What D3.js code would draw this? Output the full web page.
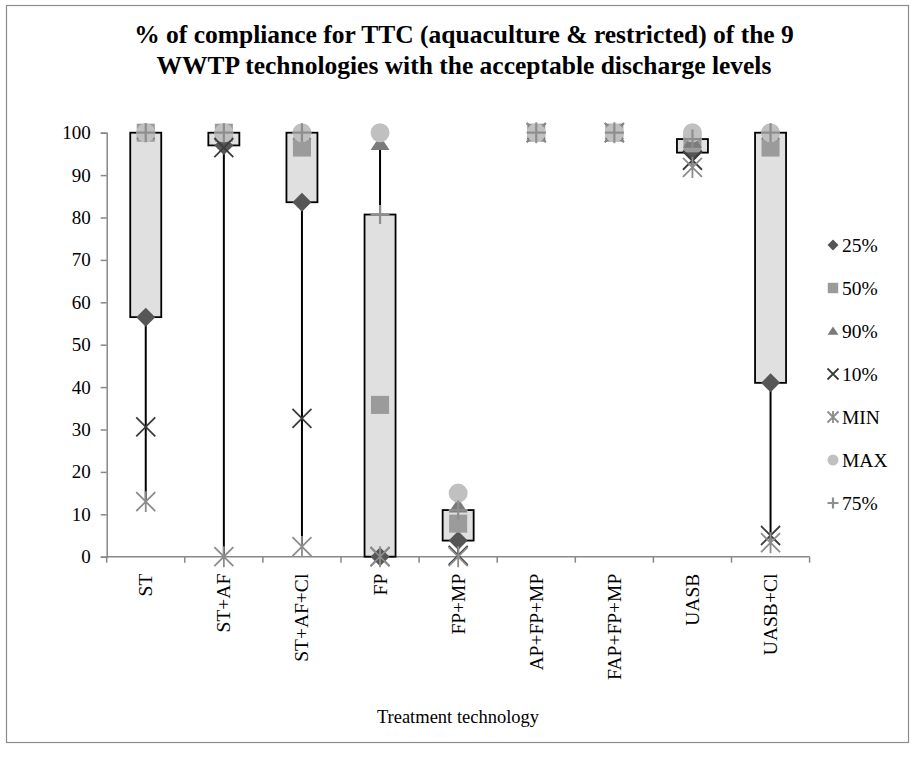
<!DOCTYPE html>
<html>
<head>
<meta charset="utf-8">
<script src="https://cdn.jsdelivr.net/npm/d3@7"></script>
<style>
  html, body { margin: 0; padding: 0; background: #fff; }
  svg { display: block; font-family: "Liberation Serif", "Times New Roman", serif; }
</style>
</head>
<body>
<svg id="chart" width="921" height="757"></svg>
<script>
// Treatment technologies on the x axis
const categories = ["ST", "ST+AF", "ST+AF+Cl", "FP", "FP+MP", "AP+FP+MP", "FAP+FP+MP", "UASB", "UASB+Cl"];

// Percentile series (% of compliance), in legend order
const p25  = [56.5, 97.0, 83.6, 0.0, 3.8, 100, 100, 95.3, 41.0];
const p50  = [100, 100, 96.5, 35.8, 7.8, 100, 100, 97.5, 96.5];
const p90  = [100, 100, 100, 97.5, 12.0, 100, 100, 98.0, 100];
const p10  = [30.6, 96.5, 32.6, 0.0, 0.3, 100, 100, 93.5, 5.0];
const pMin = [13.0, 0.0, 2.4, 0.0, 0.0, 100, 100, 91.8, 3.3];
const pMax = [100, 100, 100, 100, 15.0, 100, 100, 100, 100];
const p75  = [100, 100, 100, 80.7, 11.0, 100, 100, 98.5, 100];

const yTicks = [0, 10, 20, 30, 40, 50, 60, 70, 80, 90, 100];

const seriesNames = ["25%", "50%", "90%", "10%", "MIN", "MAX", "75%"];
const seriesData  = [p25, p50, p90, p10, pMin, pMax, p75];
const seriesShape = ["diamond", "square", "triangle", "cross", "star", "circle", "plus"];
const seriesColor = ["#565656", "#9b9b9b", "#7b7b7b", "#3c3c3c", "#8c8c8c", "#c0c0c0", "#8e8e8e"];

const svg = d3.select("#chart");

// chart frame
svg.append("rect")
  .attr("x", 6.5).attr("y", 5.5).attr("width", 902).attr("height", 737)
  .attr("fill", "#fff").attr("stroke", "#8c8c8c").attr("stroke-width", 1.2);

// title
const title = svg.append("text")
  .attr("text-anchor", "middle")
  .attr("font-weight", "bold").attr("font-size", 25.5).attr("fill", "#000");
title.append("tspan").attr("x", 464).attr("y", 43)
  .text("% of compliance for TTC (aquaculture & restricted) of the 9");
title.append("tspan").attr("x", 464).attr("y", 74)
  .text("WWTP technologies with the acceptable discharge levels");

const plot = { left: 106.7, right: 809.6, top: 132.7, bottom: 556.7 };

const x = d3.scaleBand().domain(categories).range([plot.left, plot.right]).padding(0);
const y = d3.scaleLinear().domain([0, 100]).range([plot.bottom, plot.top]);

const axisColor = "#888888";

// y axis
const yAxis = svg.append("g")
  .attr("transform", `translate(${plot.left},0)`)
  .call(d3.axisLeft(y).tickValues(yTicks).tickSize(6).tickPadding(10));
yAxis.select(".domain").attr("stroke", axisColor).attr("stroke-width", 1.5);
yAxis.selectAll(".tick line").attr("stroke", axisColor).attr("stroke-width", 1.5);
yAxis.selectAll(".tick text")
  .attr("font-family", "Liberation Serif").attr("font-size", 19).attr("fill", "#000");

// x axis: ticks sit on the category boundaries
const xAxis = svg.append("g")
  .attr("transform", `translate(0,${plot.bottom})`);
xAxis.append("line")
  .attr("x1", plot.left).attr("x2", plot.right)
  .attr("y1", 0).attr("y2", 0)
  .attr("stroke", axisColor).attr("stroke-width", 1.5);
const bounds = categories.map(c => x(c)).concat([x(categories[categories.length - 1]) + x.bandwidth()]);
xAxis.selectAll("line.tk").data(bounds).join("line")
  .attr("class", "tk")
  .attr("x1", d => d).attr("x2", d => d)
  .attr("y1", 0).attr("y2", 6)
  .attr("stroke", axisColor).attr("stroke-width", 1.5);
xAxis.selectAll("text.cat").data(categories).join("text")
  .attr("class", "cat")
  .attr("transform", d => `translate(${x(d) + x.bandwidth() / 2 + 6.5},17) rotate(-90)`)
  .attr("text-anchor", "end")
  .attr("font-size", 19.5).attr("fill", "#000")
  .text(d => d);

// x axis title
svg.append("text")
  .attr("x", 458).attr("y", 723)
  .attr("text-anchor", "middle").attr("font-size", 18.5).attr("fill", "#000")
  .text("Treatment technology");

const cx = i => x(categories[i]) + x.bandwidth() / 2;
const rows = categories.map((c, i) => ({ i, vals: seriesData.map(s => s[i]) }));

// high-low lines spanning lowest to highest value
svg.append("g").selectAll("line").data(rows).join("line")
  .attr("x1", d => cx(d.i)).attr("x2", d => cx(d.i))
  .attr("y1", d => y(d3.min(d.vals))).attr("y2", d => y(d3.max(d.vals)))
  .attr("stroke", "#000").attr("stroke-width", 2);

// up-down bars between the 25% and 75% series
const boxW = 31;
svg.append("g").selectAll("rect").data(rows).join("rect")
  .attr("x", d => cx(d.i) - boxW / 2)
  .attr("width", boxW)
  .attr("y", d => y(Math.max(p25[d.i], p75[d.i])))
  .attr("height", d => Math.abs(y(p25[d.i]) - y(p75[d.i])))
  .attr("fill", "#e0e0e0").attr("stroke", "#000").attr("stroke-width", 1.8);

// marker paths centred on the origin
function markerPath(shape, s) {
  const p = d3.path();
  switch (shape) {
    case "diamond":
      p.moveTo(0, -s); p.lineTo(s, 0); p.lineTo(0, s); p.lineTo(-s, 0); p.closePath(); break;
    case "square":
      p.rect(-s * 0.95, -s * 0.95, s * 1.9, s * 1.9); break;
    case "triangle":
      p.moveTo(0, -s * 0.8); p.lineTo(s, s * 0.7); p.lineTo(-s, s * 0.7); p.closePath(); break;
    case "circle":
      p.arc(0, 0, s, 0, 2 * Math.PI); break;
    case "cross":
      p.moveTo(-s, -s); p.lineTo(s, s); p.moveTo(s, -s); p.lineTo(-s, s); break;
    case "star":
      p.moveTo(-s, -s); p.lineTo(s, s); p.moveTo(s, -s); p.lineTo(-s, s);
      p.moveTo(0, -s * 1.1); p.lineTo(0, s * 1.1); break;
    case "plus":
      p.moveTo(-s, 0); p.lineTo(s, 0); p.moveTo(0, -s); p.lineTo(0, s); break;
  }
  return p.toString();
}
const stroked = shape => shape === "cross" || shape === "star" || shape === "plus";

function drawMarker(g, shape, color, size) {
  const path = g.append("path").attr("d", markerPath(shape, size));
  if (stroked(shape)) {
    path.attr("fill", "none").attr("stroke", color)
      .attr("stroke-width", shape === "plus" ? 2.2 : 1.8);
  } else {
    path.attr("fill", color);
  }
}

// series markers, drawn in legend order so later series sit on top
const markers = svg.append("g");
seriesData.forEach((vals, si) => {
  vals.forEach((v, i) => {
    const g = markers.append("g").attr("transform", `translate(${cx(i)},${y(v)})`);
    drawMarker(g, seriesShape[si], seriesColor[si], 9.5);
  });
});

// legend
const legend = svg.append("g");
seriesNames.forEach((name, si) => {
  const ly = 245 + si * 43;
  const g = legend.append("g").attr("transform", `translate(833,${ly})`);
  drawMarker(g, seriesShape[si], seriesColor[si], 5.5);
  legend.append("text")
    .attr("x", 842).attr("y", ly + 6.5)
    .attr("font-size", 19.5).attr("fill", "#000")
    .text(name);
});
</script>
</body>
</html>
